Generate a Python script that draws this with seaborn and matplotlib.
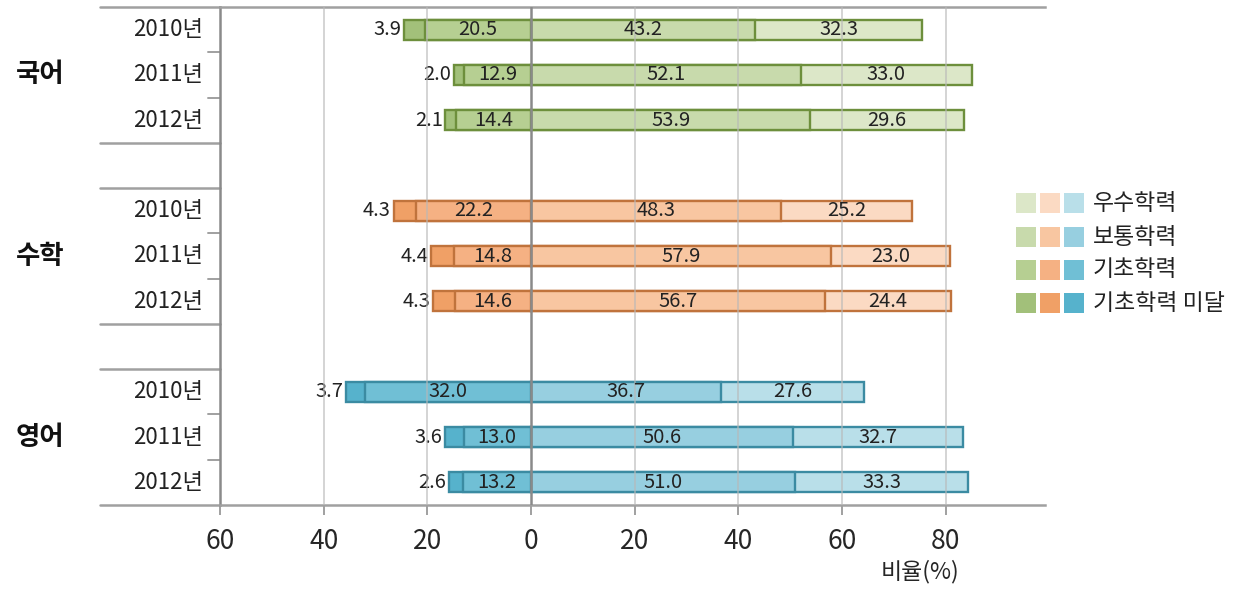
import numpy as np
import pandas as pd
import seaborn as sns
import matplotlib.pyplot as plt
from matplotlib.patches import Rectangle
from matplotlib.transforms import blended_transform_factory

# ------------------------------------------------------------------
# data: achievement level ratios (%) by subject and year
# ------------------------------------------------------------------
subjects = ['국어', '수학', '영어']
years = ['2010년', '2011년', '2012년']
below_basic = [3.9, 2.0, 2.1, 4.3, 4.4, 4.3, 3.7, 3.6, 2.6]       # 기초학력 미달
basic = [20.5, 12.9, 14.4, 22.2, 14.8, 14.6, 32.0, 13.0, 13.2]     # 기초학력
average = [43.2, 52.1, 53.9, 48.3, 57.9, 56.7, 36.7, 50.6, 51.0]   # 보통학력
excellent = [32.3, 33.0, 29.6, 25.2, 23.0, 24.4, 27.6, 32.7, 33.3]  # 우수학력
levels = ['우수학력', '보통학력', '기초학력', '기초학력 미달']
x_ticks = [-60, -40, -20, 0, 20, 40, 60, 80]

# colours per subject: 우수, 보통, 기초, 미달
fills = {
    '국어': ['#dce7c8', '#c8daac', '#b6cf92', '#a2c07a'],
    '수학': ['#fbdac3', '#f8c6a1', '#f5b183', '#f0a066'],
    '영어': ['#b9dfe9', '#97cfe0', '#70bfd5', '#56b2cc'],
}
edges = {'국어': '#6d8f3c', '수학': '#c0733c', '영어': '#3b8ba2'}

df = pd.DataFrame({
    'subject': np.repeat(subjects, 3),
    'year': years * 3,
    'below': below_basic,
    'basic': basic,
    'average': average,
    'excellent': excellent,
})
# one empty row between subject groups
df['pos'] = np.repeat(np.arange(3) * 4, 3) + np.tile(np.arange(3), 3)
df['right_total'] = df['average'] + df['excellent']
df['neg_basic'] = -df['basic']
df['left_total'] = -(df['basic'] + df['below'])

# ------------------------------------------------------------------
# plot
# ------------------------------------------------------------------
sns.set_style('white')
plt.rcParams['font.family'] = ['Noto Sans CJK KR', 'DejaVu Sans']

fig = plt.figure(figsize=(12.4, 5.91), dpi=100)
ax = fig.add_axes([220 / 1240, 1 - 505 / 591, 825 / 1240, 498 / 591])

# longest bars first so the shorter ones sit on top
layers = [('right_total', 0), ('average', 1), ('left_total', 3), ('neg_basic', 2)]
for s in subjects:
    d = df[df['subject'] == s]
    for col, ci in layers:
        sns.barplot(data=d, x=col, y='pos', orient='h', native_scale=True,
                    color=fills[s][ci], saturation=1, edgecolor=edges[s],
                    linewidth=1.7, width=0.44, errorbar=None, ax=ax, zorder=2)

# value labels
for _, r in df.iterrows():
    kw = dict(ha='center', va='center', fontsize=14.5, color='#222222', zorder=5)
    ax.text(-r['basic'] / 2, r['pos'], f"{r['basic']:.1f}", **kw)
    ax.text(r['average'] / 2, r['pos'], f"{r['average']:.1f}", **kw)
    ax.text(r['average'] + r['excellent'] / 2, r['pos'], f"{r['excellent']:.1f}", **kw)
    ax.annotate(f"{r['below']:.1f}", (r['left_total'], r['pos']), xytext=(-2, 0),
                textcoords='offset points', ha='right', va='center',
                fontsize=14.5, color='#222222')

ax.set_xlim(-60, 99.2)
ax.set_ylim(10.5, -0.5)
ax.set_xticks(x_ticks)
ax.set_xticklabels([str(abs(t)) for t in x_ticks])
ax.set_yticks([])
ax.set_ylabel('')
ax.set_xlabel('비율(%)', fontsize=16.5)
ax.xaxis.set_label_coords(0.848, -0.11)

# grid lines drawn faintly over the bars
for t in x_ticks[1:]:
    if t == 0:
        ax.axvline(0, color='#8a8a8a', lw=1.8, zorder=4)
    else:
        ax.axvline(t, color='#b8b8b8', lw=1.4, alpha=0.6, zorder=4)

ax.spines['right'].set_visible(False)
ax.spines['left'].set_color('#8a8a8a')
ax.spines['left'].set_linewidth(1.8)
for side in ['top', 'bottom']:
    ax.spines[side].set_color('#a0a0a0')
    ax.spines[side].set_linewidth(1.8)
ax.tick_params(axis='x', length=7.5, width=1.4, color='#a0a0a0',
               labelsize=19, pad=9, direction='out', bottom=True)

# left label area: separators, year and subject labels
trans = blended_transform_factory(ax.transAxes, ax.transData)
left_edge = (100 - 220) / 825
for y in [-0.5, 2.5, 3.5, 6.5, 7.5, 10.5]:
    ax.plot([left_edge, 0], [y, y], transform=trans, color='#a0a0a0',
            lw=1.8, clip_on=False)
for y in [0.5, 1.5, 4.5, 5.5, 8.5, 9.5]:
    ax.plot([-12 / 825, 0], [y, y], transform=trans, color='#a0a0a0',
            lw=1.4, clip_on=False)

for _, r in df.iterrows():
    ax.text(-17 / 825, r['pos'], r['year'], transform=trans, ha='right',
            va='center', fontsize=16, color='#222222')
for i, s in enumerate(subjects):
    ax.text(-204 / 825, i * 4 + 1, s, transform=trans, ha='left',
            va='center', fontsize=19, fontweight='bold', color='#111111')

# legend: three colour swatches per level
W, H = 1240, 591
for row, lev in enumerate(levels):
    yc = [203, 237, 270, 303][row]
    for k, s in enumerate(subjects):
        x0 = 1016 + 24 * k
        fig.add_artist(Rectangle((x0 / W, 1 - (yc + 10) / H), 20 / W, 20 / H,
                                 transform=fig.transFigure,
                                 facecolor=fills[s][row], edgecolor='none'))
    fig.text(1093 / W, 1 - yc / H, lev, ha='left', va='center',
             fontsize=16.5, color='#222222')

plt.savefig('out.png', dpi=100)
